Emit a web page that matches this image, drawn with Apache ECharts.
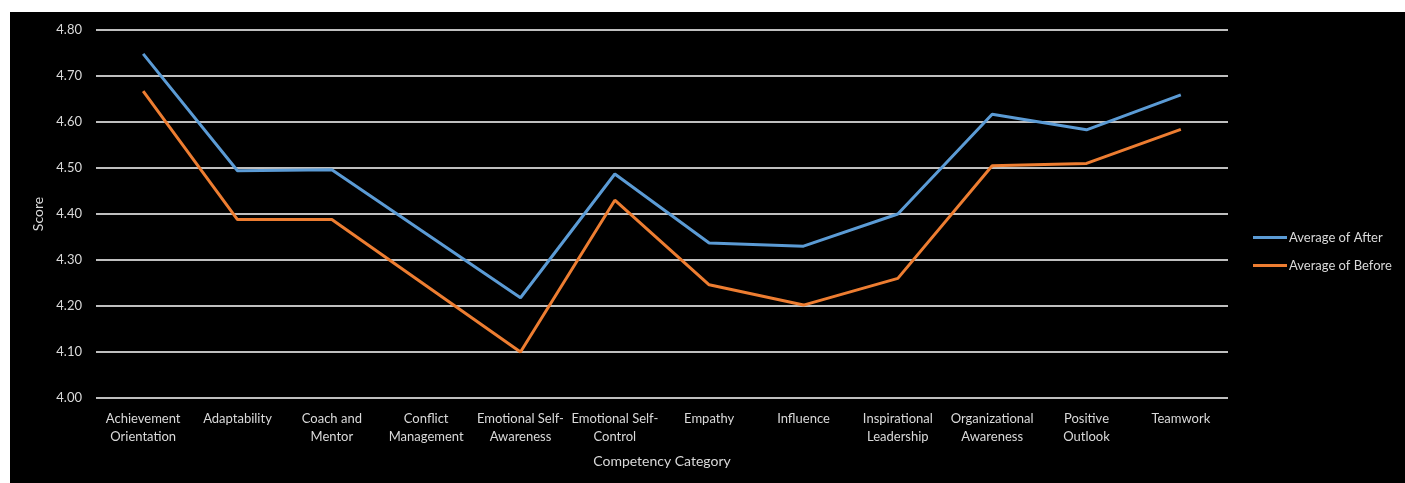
<!DOCTYPE html>
<html>
<head>
<meta charset="utf-8">
<script src="https://cdn.jsdelivr.net/npm/echarts@6/dist/echarts.min.js"></script>
<style>
html,body{margin:0;padding:0;background:#ffffff;}
#bg{position:absolute;left:10px;top:12px;width:1395px;height:471px;background:#000000;}
#chart{position:absolute;left:0;top:0;width:1405px;height:483px;}
</style>
</head>
<body>
<div id="bg"></div>
<div id="chart"></div>
<script>
const categories = [
  "Achievement\nOrientation", "Adaptability", "Coach and\nMentor", "Conflict\nManagement",
  "Emotional Self-\nAwareness", "Emotional Self-\nControl", "Empathy", "Influence",
  "Inspirational\nLeadership", "Organizational\nAwareness", "Positive\nOutlook", "Teamwork"
];
const averageAfter  = [4.748, 4.494, 4.496, 4.357, 4.218, 4.487, 4.337, 4.330, 4.400, 4.617, 4.583, 4.659];
const averageBefore = [4.667, 4.388, 4.388, 4.244, 4.100, 4.430, 4.246, 4.202, 4.260, 4.505, 4.510, 4.584];
const seriesNames = ["Average of After", "Average of Before"];

const font = "Lato, 'Open Sans', sans-serif";
const txt = "#d9d9d9";
const chart = echarts.init(document.getElementById('chart'));
chart.setOption({
  backgroundColor: 'transparent',
  animation: false,
  textStyle: { fontFamily: font },
  grid: { left: 96, right: 177, top: 30, bottom: 85, containLabel: false },
  legend: {
    orient: 'vertical',
    left: 1253, top: 231,
    padding: 0,
    icon: 'rect',
    itemWidth: 34, itemHeight: 3, itemGap: 15,
    textStyle: { color: txt, fontSize: 13, fontFamily: font, padding: [0,0,0,-3] },
    data: seriesNames
  },
  xAxis: {
    type: 'category',
    data: categories,
    boundaryGap: true,
    name: 'Competency Category',
    nameLocation: 'middle',
    nameGap: 56,
    nameTextStyle: { color: txt, fontSize: 14, fontFamily: font },
    axisLine: { show: false },
    axisTick: { show: false },
    axisLabel: { interval: 0, color: txt, fontSize: 13, fontFamily: font, margin: 12, lineHeight: 18 }
  },
  yAxis: {
    type: 'value',
    min: 4.0, max: 4.8, interval: 0.1,
    name: 'Score',
    nameLocation: 'middle',
    nameGap: 49,
    nameRotate: 90,
    nameTextStyle: { color: txt, fontSize: 14, fontFamily: font },
    axisLine: { show: false },
    axisTick: { show: false },
    axisLabel: { color: txt, fontSize: 13, fontFamily: font, margin: 14, formatter: v => v.toFixed(2) },
    splitLine: { lineStyle: { color: '#bfbfbf', width: 2 } }
  },
  series: [
    { name: seriesNames[0], type: 'line', data: averageAfter, symbol: 'none',
      lineStyle: { color: '#5b9bd5', width: 3 }, itemStyle: { color: '#5b9bd5' } },
    { name: seriesNames[1], type: 'line', data: averageBefore, symbol: 'none',
      lineStyle: { color: '#ed7d31', width: 3 }, itemStyle: { color: '#ed7d31' } }
  ]
});
</script>
</body>
</html>
